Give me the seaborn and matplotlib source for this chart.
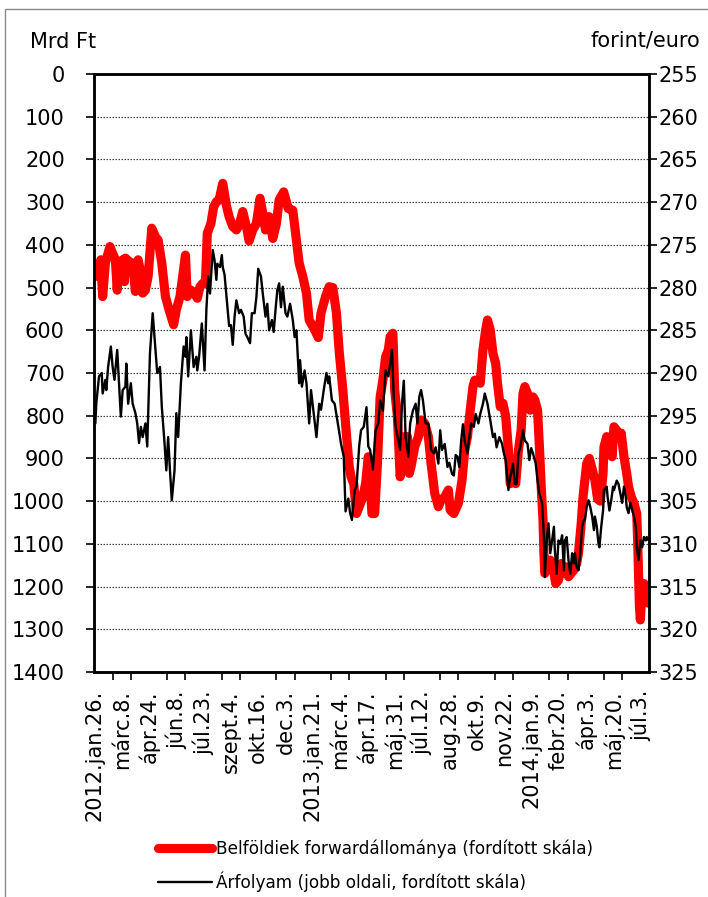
import matplotlib
matplotlib.use("Agg")
import matplotlib.pyplot as plt
from matplotlib.ticker import MultipleLocator, FixedLocator
from matplotlib.patches import Rectangle
from matplotlib.lines import Line2D
import seaborn as sns
import pandas as pd

# ---------------- data ----------------
# x = business-day observation index starting 2012-01-26
tick_labels = ["2012.jan.26.", "márc.8.", "ápr.24.", "jún.8.", "júl.23.", "szept.4.",
               "okt.16.", "dec.3.", "2013.jan.21.", "márc.4.", "ápr.17.", "máj.31.",
               "júl.12.", "aug.28.", "okt.9.", "nov.22.", "2014.jan.9.", "febr.20.",
               "ápr.3.", "máj.20.", "júl.3."]

# Belföldiek forwardállománya (Mrd Ft, left axis, inverted)
fwd_idx = [1, 3, 7, 9, 12, 17, 20, 23, 25, 27, 31, 33, 34, 38, 42, 45, 48, 51, 53, 56,
           59, 63, 67, 70, 74, 78, 82, 87, 90, 94, 97, 100, 102, 106, 110, 113, 116, 119, 122, 124,
           128, 131, 134, 137, 141, 145, 148, 152, 156, 159, 163, 167, 170, 174, 178, 182, 185, 188, 192, 196,
           200, 203, 208, 213, 218, 222, 225, 229, 233, 236, 242, 246, 249, 254, 258, 262, 266, 269, 273, 277,
           280, 282, 285, 288, 291, 295, 298, 301, 303, 305, 308, 311, 314, 317, 320, 323, 325, 328, 330, 333,
           336, 339, 341, 344, 346, 348, 352, 356, 359, 363, 367, 370, 374, 378, 381, 385, 389, 391, 395, 400,
           404, 407, 410, 413, 416, 418, 422, 424, 427, 430, 432, 435, 438, 441, 443, 446, 449, 452, 455, 457,
           460, 463, 466, 469, 471, 473, 476, 479, 482, 484, 487, 489, 491, 493, 494, 495, 498, 501, 504, 507,
           510, 513, 516, 519, 521, 524, 527, 530, 532, 535, 537, 539, 541, 544, 547, 550, 553, 556, 559, 560,
           563, 566, 569, 571, 574, 576, 579, 582, 585, 587, 590, 593, 596, 597, 599, 600, 602, 604, 606, 608,
           609]
fwd_val = [474, 467, 435, 521, 443, 404, 420, 435, 506, 443, 435, 486, 431, 439, 443, 509, 435, 467, 513, 506,
           474, 361, 381, 389, 443, 521, 552, 587, 552, 521, 474, 424, 521, 506, 513, 525, 498, 490, 490, 373,
           350, 311, 299, 295, 256, 308, 334, 357, 365, 354, 322, 357, 391, 365, 350, 291, 326, 365, 334, 385,
           350, 295, 276, 315, 319, 389, 443, 474, 513, 576, 599, 617, 560, 521, 498, 500, 560, 650, 740, 845,
           919, 943, 959, 1029, 1013, 990, 959, 896, 959, 1029, 1029, 912, 756, 717, 662, 646, 615, 607, 740, 802,
           943, 896, 849, 849, 935, 919, 873, 849, 810, 818, 849, 912, 982, 1013, 997, 990, 974, 1021, 1029, 1005,
           951, 880, 849, 787, 732, 717, 717, 724, 646, 599, 576, 599, 654, 678, 724, 779, 771, 802, 880, 959,
           951, 959, 880, 834, 748, 732, 748, 787, 756, 763, 787, 870, 966, 1044, 1122, 1169, 1154, 1138, 1154, 1193,
           1185, 1146, 1169, 1154, 1177, 1169, 1161, 1146, 1122, 1052, 990, 951, 912, 900, 925, 950, 995, 1000, 935, 873,
           849, 880, 896, 826, 834, 841, 841, 896, 935, 966, 990, 1005, 1029, 1091, 1247, 1278, 1200, 1193, 1208, 1232,
           1239]

# Árfolyam (forint/euro, right axis, inverted)
fx_idx = [1, 2, 5, 8, 9, 12, 13, 15, 18, 20, 22, 25, 29, 31, 34, 35, 37, 40, 42, 45,
          47, 49, 51, 53, 56, 58, 61, 64, 67, 69, 72, 74, 77, 79, 81, 83, 85, 88, 90, 92,
          95, 98, 100, 101, 103, 106, 109, 112, 113, 115, 118, 121, 123, 125, 127, 130, 132, 134, 135, 138,
          140, 141, 143, 145, 148, 150, 152, 154, 156, 159, 161, 164, 166, 168, 171, 173, 176, 178, 180, 183,
          185, 188, 190, 192, 195, 197, 199, 201, 203, 205, 207, 210, 212, 215, 218, 220, 222, 225, 226, 228,
          231, 233, 236, 238, 241, 244, 247, 249, 252, 255, 257, 258, 261, 264, 266, 269, 271, 274, 276, 279,
          281, 283, 286, 288, 291, 293, 296, 299, 301, 303, 306, 309, 312, 314, 317, 320, 323, 325, 327, 329,
          331, 334, 336, 338, 340, 342, 345, 347, 350, 353, 355, 357, 359, 361, 364, 367, 370, 373, 375, 378,
          380, 382, 385, 388, 390, 393, 395, 397, 399, 401, 403, 405, 407, 410, 412, 414, 417, 419, 422, 424,
          427, 429, 432, 435, 438, 440, 442, 445, 448, 450, 452, 455, 457, 460, 462, 464, 466, 468, 471, 473,
          476, 478, 480, 482, 485, 487, 489, 492, 494, 495, 497, 499, 501, 503, 505, 506, 508, 510, 512, 514,
          516, 517, 519, 521, 523, 525, 527, 528, 530, 532, 534, 536, 538, 539, 541, 543, 545, 547, 549, 550,
          552, 554, 555, 557, 559, 560, 563, 564, 566, 568, 570, 571, 574, 576, 578, 580, 582, 584, 585, 587,
          589, 591, 593, 595, 596, 598, 600, 602, 604, 606, 607, 609]
fx_rate = [295.9, 293.6, 290.4, 290.0, 292.4, 290.8, 292.0, 289.3, 286.9, 289.3, 290.8, 287.3, 295.1, 292.0, 291.6, 288.9, 293.6, 291.2, 293.6, 294.7,
           295.9, 298.2, 296.3, 297.5, 295.9, 298.6, 287.7, 283.0, 287.3, 290.0, 289.3, 293.9, 298.2, 301.4, 297.5, 301.4, 304.9, 301.4, 294.7, 297.5,
           291.2, 286.9, 288.1, 285.8, 290.4, 285.0, 289.3, 288.1, 289.7, 288.1, 284.2, 289.7, 282.6, 278.7, 280.7, 275.6, 276.8, 279.1, 277.2, 277.6,
           276.2, 277.6, 278.5, 280.9, 284.5, 284.4, 286.7, 283.4, 281.5, 283.0, 282.6, 283.4, 285.4, 285.8, 286.5, 283.0, 283.0, 281.1, 277.8, 278.7,
           280.7, 283.4, 281.9, 285.0, 283.8, 285.2, 282.6, 280.3, 279.5, 282.3, 279.9, 283.0, 283.4, 281.9, 283.8, 285.8, 285.0, 291.2, 288.5, 291.6,
           289.7, 291.2, 295.9, 292.0, 294.7, 297.5, 293.6, 294.3, 292.0, 290.0, 291.2, 290.4, 293.2, 293.6, 294.9, 296.9, 298.3, 299.8, 306.2, 304.7,
           306.4, 307.2, 303.7, 303.3, 298.5, 296.7, 296.3, 294.0, 298.6, 299.0, 301.3, 296.7, 295.9, 293.2, 294.4, 289.7, 290.4, 288.9, 287.3, 292.8,
           296.3, 297.9, 299.0, 293.6, 290.9, 297.5, 299.8, 295.9, 294.4, 293.6, 295.9, 292.8, 292.0, 293.2, 295.9, 295.9, 299.0, 299.4, 298.7, 300.6,
           296.7, 299.0, 298.3, 301.0, 300.5, 301.8, 302.0, 299.6, 299.8, 301.0, 298.0, 296.0, 298.0, 299.4, 297.5, 295.9, 296.3, 294.8, 295.9, 294.8,
           293.6, 292.4, 293.6, 295.5, 297.5, 297.1, 298.7, 297.5, 298.3, 299.4, 300.2, 303.7, 302.2, 300.6, 303.0, 303.0, 299.4, 298.7, 296.7, 297.9,
           298.3, 300.2, 298.8, 299.4, 300.6, 302.6, 304.1, 305.2, 309.2, 313.9, 309.6, 307.6, 311.1, 309.6, 308.0, 310.7, 313.5, 309.6, 310.0, 309.0,
           313.1, 309.6, 309.2, 311.9, 313.5, 311.1, 312.3, 311.1, 312.7, 313.1, 311.1, 308.0, 307.2, 307.2, 305.7, 304.9, 305.7, 306.8, 308.4, 306.8,
           307.9, 310.0, 310.4, 308.0, 306.1, 303.7, 303.3, 304.5, 306.1, 304.9, 303.3, 303.7, 302.6, 303.0, 304.1, 305.2, 303.3, 304.5, 305.7, 306.4,
           305.2, 306.0, 306.8, 308.0, 310.4, 311.9, 309.6, 310.4, 309.2, 309.6, 309.2, 309.6]

label_fwd = "Belföldiek forwardállománya (fordított skála)"
label_fx = "Árfolyam (jobb oldali, fordított skála)"

# ---------------- style ----------------
sns.set_theme(style="white")
plt.rcParams["font.family"] = ["DejaVu Sans"]
plt.rcParams["font.size"] = 15
plt.rcParams["text.color"] = "black"
plt.rcParams["xtick.color"] = "black"
plt.rcParams["ytick.color"] = "black"

fwd_df = pd.DataFrame({"idx": fwd_idx, "val": fwd_val})
fx_df = pd.DataFrame({"idx": fx_idx, "rate": fx_rate})

fig = plt.figure(figsize=(7.08, 8.97), dpi=100)
ax = fig.add_axes([94 / 708, 1 - 672 / 897, (649 - 94) / 708, (672 - 74) / 897])
ax2 = ax.twinx()

# gridlines (left axis)
for g in range(100, 1400, 100):
    ax.axhline(g, color="#444444", lw=0.9, ls=(0, (1.2, 1.2)), zorder=0.5)

sns.lineplot(data=fwd_df, x="idx", y="val", ax=ax, color="#ff0000", lw=6.6,
             estimator=None, legend=False, solid_capstyle="round",
             solid_joinstyle="round", zorder=2)
sns.lineplot(data=fx_df, x="idx", y="rate", ax=ax2, color="black", lw=1.7,
             estimator=None, legend=False, zorder=3)

ax.set_xlim(-0.5, 609.5)
ax.set_ylim(1400, 0)
ax2.set_ylim(325, 255)

ax.set_xlabel("")
ax.set_ylabel("")
ax2.set_xlabel("")
ax2.set_ylabel("")

ax.yaxis.set_major_locator(MultipleLocator(100))
ax2.yaxis.set_major_locator(MultipleLocator(5))
ax.set_yticklabels([f"{int(v)}" for v in ax.get_yticks()])
ax2.set_yticklabels([f"{int(v)}" for v in ax2.get_yticks()])

ax.xaxis.set_major_locator(FixedLocator([30 * k for k in range(len(tick_labels))]))
ax.set_xticklabels(tick_labels, rotation=90, ha="center", va="top")
ax.xaxis.set_minor_locator(FixedLocator(list(range(0, 610, 20))))

ax.tick_params(axis="x", which="major", length=0, pad=13, labelsize=15, colors="black")
ax.tick_params(axis="x", which="minor", length=6, width=1.2, direction="out", bottom=True, color="black")
ax.tick_params(axis="y", which="major", length=6, width=1.2, direction="out", left=True,
               pad=15, labelsize=15, colors="black")
ax2.tick_params(axis="y", which="major", length=6, width=1.2, direction="out", right=True,
                pad=1, labelsize=15, colors="black")

for a in (ax, ax2):
    for s in a.spines.values():
        s.set_color("black")
        s.set_linewidth(1.8)
        s.set_visible(True)

fig.text(30 / 708, 1 - 42 / 897, "Mrd Ft", fontsize=15, ha="left", va="center", color="black")
fig.text(700 / 708, 1 - 41 / 897, "forint/euro", fontsize=15, ha="right", va="center", color="black")

handles = [Line2D([0], [0], color="#ff0000", lw=6.6, solid_capstyle="round"),
           Line2D([0], [0], color="black", lw=1.7)]
leg = fig.legend(handles, [label_fwd, label_fx], loc="upper left",
                 bbox_to_anchor=(158 / 708, 1 - 839 / 897), frameon=False, fontsize=12.2,
                 handlelength=3.2, handletextpad=0.25, labelspacing=0.85,
                 borderaxespad=0, borderpad=0)
for t in leg.get_texts():
    t.set_color("black")

# outer chart border
fig.patches.append(Rectangle((5 / 708, -0.1), 1.2, 1 - 9 / 897 + 0.1, transform=fig.transFigure,
                             fill=False, edgecolor="#888888", lw=1.0))

fig.savefig("out.png", dpi=100)
